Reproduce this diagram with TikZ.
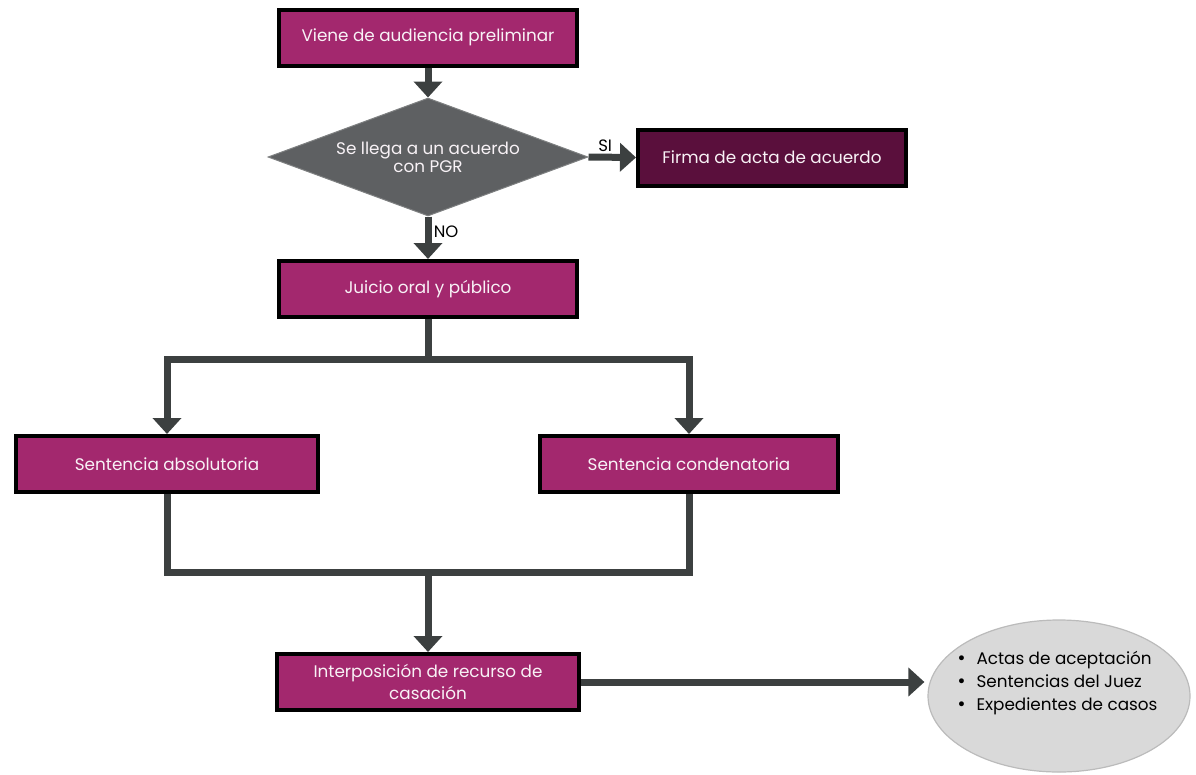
\documentclass[tikz,border=0pt]{standalone}
\usepackage{fontspec}
\setmainfont{Poppins}
\newfontfamily\dejavu{DejaVu Sans}
\usetikzlibrary{arrows.meta,shapes.geometric}
\definecolor{mag}{HTML}{A3286E}
\definecolor{dmag}{HTML}{5A0F3C}
\definecolor{conn}{HTML}{3C4040}
\definecolor{dia}{HTML}{5E6062}
\definecolor{ell}{HTML}{D9D9D9}
\definecolor{elledge}{HTML}{BBBBBB}
\definecolor{txtw}{HTML}{F8F2F6}
\newcommand{\blt}{{\dejavu •}\hspace{0.6em}}
\tikzset{
  box/.style={rectangle,draw=black,line width=4pt,fill=mag,text=txtw,
    minimum width=#1,minimum height=56pt,inner sep=0pt,align=center,
    font=\fontsize{16.8}{19}\selectfont},
  box/.default=298pt,
  arr/.style={draw=conn,line width=7pt,-{Triangle[width=28pt,length=16pt]}},
  ln/.style={draw=conn,line width=7pt},
  lab/.style={font=\fontsize{16.5}{18}\selectfont,text=black}
}
\begin{document}
\begin{tikzpicture}[x=1pt,y=-1pt,line join=miter]
\useasboundingbox (0,0) rectangle (1196,774);
\node[box] (b1) at (428,37.5) {Viene de audiencia preliminar};
\node[diamond,draw=dia!80!white,line width=1pt,fill=dia,aspect=2.71,minimum width=320pt,minimum height=118pt,inner sep=0pt,text=txtw,align=center,font=\fontsize{16.8}{18}\selectfont] (d) at (428,157) {Se llega a un acuerdo\\con PGR};
\node[box=268pt,fill=dmag] (f) at (772,157.5) {Firma de acta de acuerdo};
\node[box] (j) at (428,289) {Juicio oral y público};
\node[box=302pt] (sa) at (167,464) {Sentencia absolutoria};
\node[box] (sc) at (689,464) {Sentencia condenatoria};
\node[box=302pt,font=\fontsize{16.8}{22}\selectfont] (ip) at (428,682) {Interposición de recurso de\\casación};
\node[ellipse,draw=elledge,line width=1.2pt,fill=ell,minimum width=262pt,minimum height=152pt,inner sep=0pt] (e) at (1059,696) {};
\node[align=left,inner sep=0pt,font=\fontsize{16.8}{23}\selectfont] (et) at (1057,683) {\blt Actas de aceptación\\\blt Sentencias del Juez\\\blt Expedientes de casos};
\draw[arr] (b1.south) -- (d.north);
\draw[arr] (d.east) -- (f.west) node[lab,pos=0.35,above=-1pt] {SI};
\draw[arr] (d.south) -- (j.north) node[lab,pos=0.35,right=-1pt] {NO};
\draw[arr] (j.south) -- ++(0,40) -| (sa.north);
\draw[arr] (j.south) -- ++(0,40) -| (sc.north);
\coordinate (m) at (428,572);
\draw[ln] (sa.south) |- (m) -| (sc.south);
\draw[arr] (m) -- (ip.north);
\draw[arr] (ip.east) -- ([xshift=-3pt]ip.east -| e.west);
\end{tikzpicture}
\end{document}
